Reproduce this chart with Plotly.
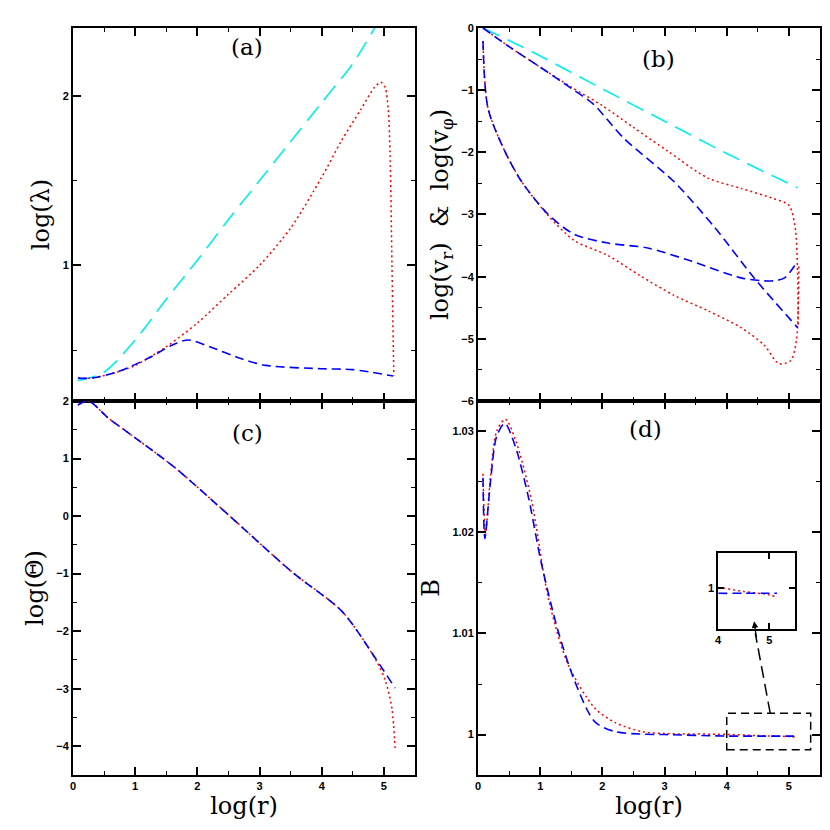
import plotly.graph_objects as go

# ---- data ----
a_cyan_x = [0.08, 0.5, 1.0, 1.5, 2.0, 2.5, 3.0, 3.5, 4.0, 4.5, 4.85]
a_cyan_y = [0.32, 0.37, 0.56, 0.80, 1.03, 1.27, 1.50, 1.73, 1.96, 2.19, 2.40]
a_red_x = [0.08, 0.3, 0.7, 1.0, 1.5, 2.0, 2.5, 3.0, 3.5, 4.0, 4.31, 4.63, 4.85, 4.95, 5.02, 5.07, 5.1, 5.13, 5.15, 5.16]
a_red_y = [0.335, 0.335, 0.37, 0.41, 0.52, 0.66, 0.83, 1.0, 1.22, 1.52, 1.73, 1.92, 2.05, 2.08, 2.05, 1.92, 1.65, 1.00, 0.55, 0.35]
a_blue_x = [0.08, 0.3, 0.7, 1.2, 1.6, 1.85, 2.2, 2.7, 3.1, 4.0, 4.5, 5.15]
a_blue_y = [0.335, 0.335, 0.37, 0.45, 0.53, 0.56, 0.52, 0.45, 0.41, 0.39, 0.385, 0.347]

b_cyan_x = [0.08, 0.5, 1.0, 2.0, 3.0, 4.0, 5.14]
b_cyan_y = [0.0, -0.2, -0.45, -0.98, -1.5, -2.02, -2.57]
b_blue1_x = [0.08, 0.5, 1.0, 1.5, 1.86, 2.34, 3.15, 3.8, 4.44, 5.14]
b_blue1_y = [0.0, -0.3, -0.63, -0.97, -1.23, -1.77, -2.47, -3.2, -4.02, -4.82]
b_red1_x = [0.08, 0.5, 1.0, 1.5, 2.0, 2.5, 3.05, 3.69, 4.23, 4.77, 5.0, 5.1, 5.14, 5.15]
b_red1_y = [0.0, -0.3, -0.63, -0.95, -1.25, -1.6, -1.98, -2.41, -2.58, -2.75, -2.85, -3.2, -3.96, -4.8]
b_blue2_x = [0.08, 0.16, 0.43, 0.7, 1.13, 1.55, 2.09, 2.73, 3.43, 4.23, 4.71, 4.93, 5.14]
b_blue2_y = [-0.21, -1.29, -1.98, -2.47, -3.0, -3.32, -3.46, -3.54, -3.75, -4.02, -4.07, -4.02, -3.75]
b_red2_x = [0.08, 0.16, 0.43, 0.7, 1.13, 1.55, 2.09, 2.6, 3.15, 3.7, 4.23, 4.6, 4.84, 5.03, 5.12, 5.15, 5.16]
b_red2_y = [-0.21, -1.29, -1.98, -2.47, -3.02, -3.42, -3.66, -3.98, -4.3, -4.55, -4.82, -5.1, -5.4, -5.35, -5.03, -4.5, -3.8]

c_x = [0.08, 0.25, 0.56, 1.0, 1.64, 2.5, 3.52, 4.33, 4.87, 5.18]
c_blue_y = [1.93, 2.0, 1.71, 1.36, 0.84, 0.02, -0.97, -1.66, -2.48, -2.99]
c_red_x = [0.08, 0.25, 0.56, 1.0, 1.64, 2.5, 3.52, 4.33, 4.87, 5.03, 5.13, 5.18]
c_red_y = [1.93, 2.0, 1.71, 1.36, 0.84, 0.02, -0.97, -1.66, -2.5, -2.88, -3.35, -4.03]

d_blue_x = [0.08, 0.11, 0.2, 0.3, 0.43, 0.6, 0.81, 1.02, 1.29, 1.56, 1.88, 2.2, 2.6, 3.0, 4.0, 4.5, 5.0, 5.15]
d_blue_y = [1.0254, 1.0194, 1.0250, 1.0295, 1.0308, 1.0285, 1.0235, 1.0169, 1.0102, 1.0052, 1.00125, 1.0003, 1.00005, 1.0, 0.99985, 0.99985, 0.99985, 0.99985]
d_red_x = [0.08, 0.12, 0.2, 0.3, 0.44, 0.6, 0.86, 1.13, 1.45, 1.88, 2.2, 2.63, 3.0, 4.0, 4.5, 5.0, 5.1]
d_red_y = [1.0258, 1.0198, 1.0255, 1.0300, 1.0312, 1.0292, 1.0232, 1.0135, 1.0069, 1.0026, 1.0012, 1.0003, 1.0001, 1.00002, 0.9999, 0.9998, 0.99975]

CYAN = "#00f0f0"; RED = "#ff0000"; BLUE = "#0000ff"
cy = dict(color=CYAN, width=1.6, dash="18px,9px", shape="spline", smoothing=0.8)
rd = dict(color=RED, width=1.5, dash="2px,3px", shape="spline", smoothing=0.8)
bl = dict(color=BLUE, width=1.6, dash="9px,5px", shape="spline", smoothing=0.8)

fig = go.Figure()
def add(x, y, line, xa, ya):
    fig.add_trace(go.Scatter(x=x, y=y, mode="lines", line=line, xaxis=xa, yaxis=ya, showlegend=False))

add(a_cyan_x, a_cyan_y, cy, "x", "y")
add(a_red_x, a_red_y, rd, "x", "y")
add(a_blue_x, a_blue_y, bl, "x", "y")
add(b_cyan_x, b_cyan_y, cy, "x2", "y2")
add(b_red1_x, b_red1_y, rd, "x2", "y2")
add(b_red2_x, b_red2_y, rd, "x2", "y2")
add(b_blue1_x, b_blue1_y, bl, "x2", "y2")
add(b_blue2_x, b_blue2_y, bl, "x2", "y2")
add(c_red_x, c_red_y, rd, "x3", "y3")
add(c_x, c_blue_y, bl, "x3", "y3")
add(d_red_x, d_red_y, rd, "x4", "y4")
add(d_blue_x, d_blue_y, bl, "x4", "y4")
add(d_red_x, d_red_y, rd, "x5", "y5")
add(d_blue_x, d_blue_y, bl, "x5", "y5")

tickfont = dict(family="Liberation Sans", size=11, color="black", weight="bold")
serif = "DejaVu Serif"
def ax(domain, rng, dtick, minor, showlabels=True, title=None, anchor=None, tickvals=None):
    d = dict(domain=domain, range=rng, showgrid=False, zeroline=False, showline=True,
             linecolor="black", linewidth=2, mirror="allticks", ticks="inside", ticklen=8,
             tickwidth=1.5, tickcolor="black", dtick=dtick, showticklabels=showlabels,
             tickfont=tickfont, minor=dict(dtick=minor, ticks="inside", ticklen=4, tickwidth=1.2, tickcolor="black"),
             anchor=anchor, automargin=False)
    if tickvals is not None:
        d["tickmode"] = "array"; d["tickvals"] = tickvals; d.pop("dtick")
    if title:
        d["title"] = dict(text=title, font=dict(family=serif, size=24, color="black"), standoff=6)
    return d

XL = [0.0, 0.4578]; XR = [0.5422, 1.0]
YB = [0.0, 0.5007]; YT = [0.5007, 1.0]
fig.update_layout(
    width=830, height=830, margin=dict(l=65, r=18, t=20, b=63),
    paper_bgcolor="white", plot_bgcolor="white",
    xaxis=ax(XL, [0, 5.5], 1, 0.5, False, anchor="y"),
    yaxis=ax(YT, [0.2, 2.4], 1, 0.5, True, "log(λ)", anchor="x", tickvals=[1, 2]),
    xaxis2=ax(XR, [0, 5.5], 1, 0.5, False, anchor="y2"),
    yaxis2=ax(YT, [-6, 0], 1, 0.5, True, "log(v<sub>r</sub>)  &  log(v<sub>φ</sub>)", anchor="x2"),
    xaxis3=ax(XL, [0, 5.5], 1, 0.5, True, "log(r)", anchor="y3"),
    yaxis3=ax(YB, [-4.5, 2], 1, 0.5, True, "log(Θ)", anchor="x3"),
    xaxis4=ax(XR, [0, 5.5], 1, 0.5, True, "log(r)", anchor="y4"),
    yaxis4=ax(YB, [0.996, 1.033], 0.01, 0.005, True, "B", anchor="x4", tickvals=[1, 1.01, 1.02, 1.03]),
    xaxis5=ax([0.8635, 0.9665], [4, 5.5], 1, 0.5, True, anchor="y5"),
    yaxis5=ax([0.1954, 0.2972], [0.99878, 1.00105], 0.001, 0.0005, True, anchor="x5", tickvals=[1]),
)
fig.update_layout(xaxis5=dict(ticklen=6, minor=dict(ticklen=0), linewidth=1.5),
                  yaxis5=dict(ticklen=6, minor=dict(ticklen=0), linewidth=1.5))

labels = [("(a)", "x", "y", 2.8, 2.29), ("(b)", "x2", "y2", 2.9, -0.5),
          ("(c)", "x3", "y3", 2.8, 1.45), ("(d)", "x4", "y4", 2.7, 1.0302)]
for t, xa, ya, xv, yv in labels:
    fig.add_annotation(text=t, x=xv, y=yv, xref=xa, yref=ya, showarrow=False,
                       font=dict(family=serif, size=23, color="black"))

fig.add_shape(type="rect", xref="x4", yref="y4", x0=4.0, x1=5.35, y0=0.9985, y1=1.0021,
              line=dict(color="black", width=1.5, dash="8px,5px"))
fig.add_shape(type="line", xref="x4", yref="y4", x0=4.7, x1=4.46, y0=1.0021, y1=1.0100,
              line=dict(color="black", width=1.5, dash="12px,6px"))
fig.add_annotation(x=4.44, y=1.0112, ax=4.48, ay=1.0095, xref="x4", yref="y4", axref="x4", ayref="y4",
                   text="", showarrow=True, arrowhead=2, arrowsize=1, arrowwidth=1.3, arrowcolor="black")

fig.write_html("out.html")
